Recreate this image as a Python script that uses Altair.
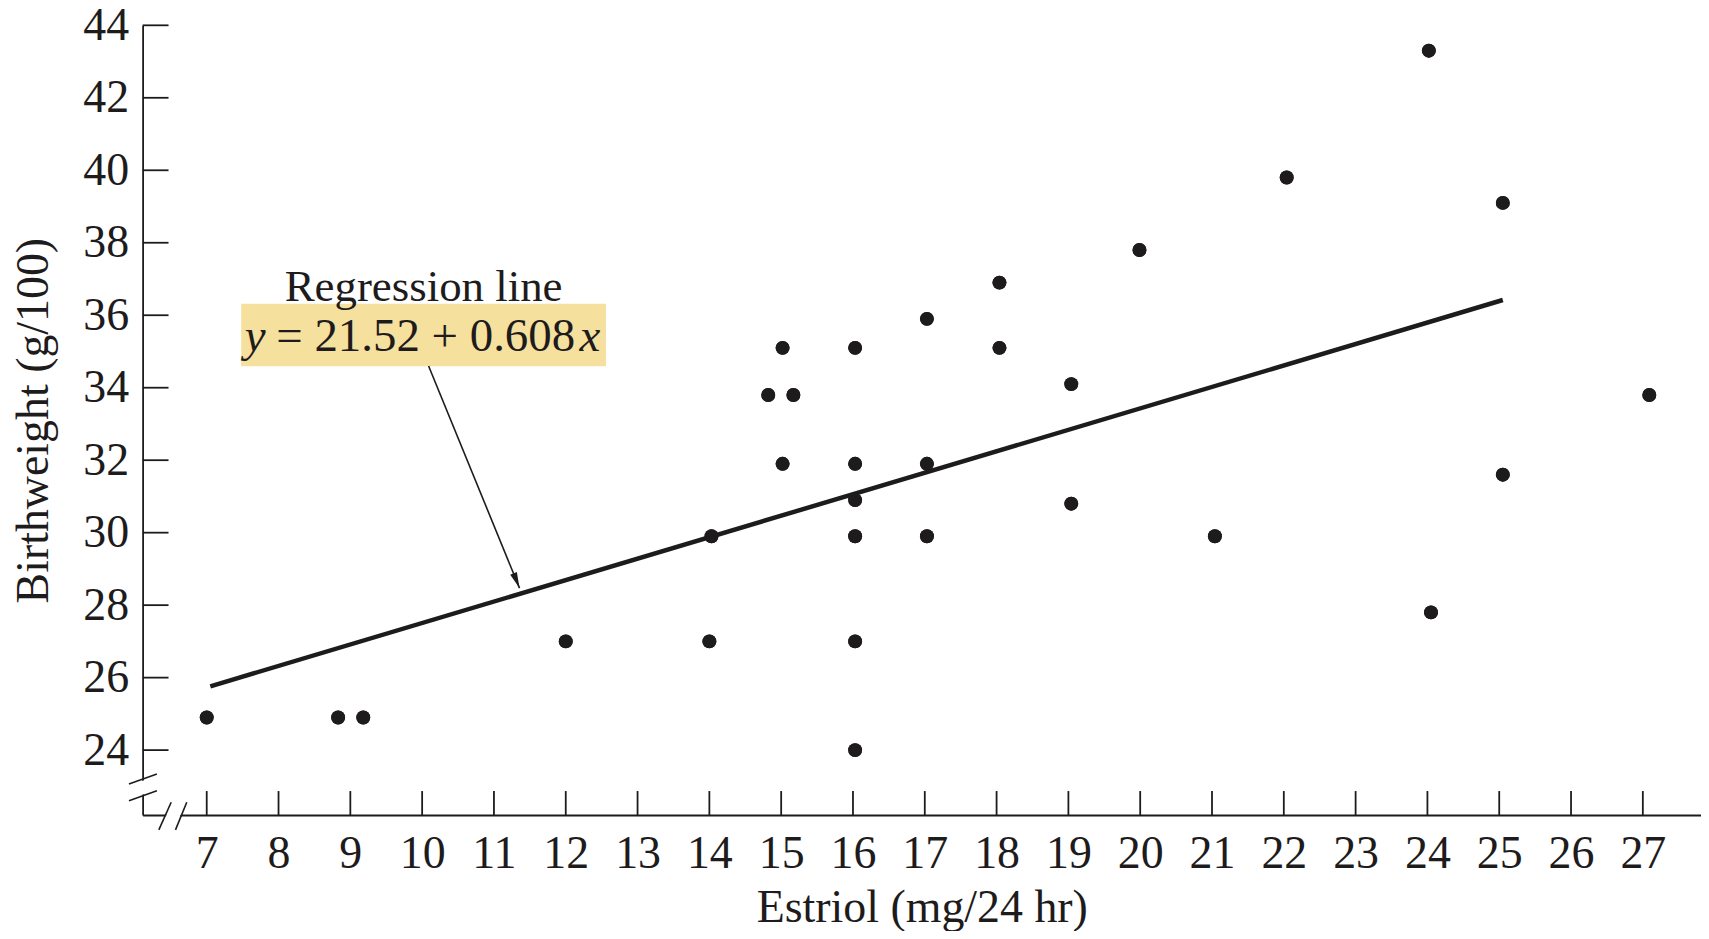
import altair as alt
import pandas as pd

# ---- data ----
estriol = [7.0, 8.83, 9.18, 12.0, 14.0, 16.03, 16.03, 14.03, 16.03, 16.03, 17.03,
           19.04, 21.04, 24.05, 15.02, 16.03, 17.03, 25.05, 27.09, 14.82, 15.17,
           15.02, 16.03, 19.04, 18.04, 17.03, 18.04, 19.99, 22.04, 25.05, 24.02]
birthweight = [24.9, 24.9, 24.9, 27.0, 27.0, 27.0, 24.0, 29.9, 29.9, 30.9, 29.9,
               30.8, 29.9, 27.8, 31.9, 31.9, 31.9, 31.6, 33.8, 33.8, 33.8,
               35.1, 35.1, 34.1, 35.1, 35.9, 36.9, 37.8, 39.8, 39.1, 43.3]

reg_x = [7.05, 25.05]
reg_y = [25.76, 36.42]

x_ticks = list(range(7, 28))
y_ticks = list(range(24, 45, 2))

x_domain = [6.107, 27.81]
y_domain = [22.21, 44.0]

# annotation (data units)
box_x = [7.48, 12.56]
box_y = [34.59, 36.32]
arrow_x = [10.09, 11.356]
arrow_y = [34.60, 28.47]

# axis-break slashes (data units)
ybreak_x = [5.917, 6.306]
ybreak_y1 = [23.063, 23.338]
ybreak_y2 = [22.603, 22.878]
ybreak_gap = [22.829, 23.104]
xbreak_y = [21.80, 22.56]
xbreak_x1 = [6.333, 6.505]
xbreak_x2 = [6.565, 6.722]
xbreak_gap = [6.448, 6.614]

FONT = "Liberation Serif"
INK = "#1e1b1c"
W, H = 1563, 792

xs = alt.Scale(domain=x_domain, nice=False, zero=False)
ys = alt.Scale(domain=y_domain, nice=False, zero=False)

pts = pd.DataFrame({"estriol": estriol, "bw": birthweight})
reg = pd.DataFrame({"x": reg_x, "y": reg_y})

base_x_axis = alt.Axis(values=x_ticks, format="d", ticks=False, tickSize=0, grid=False,
                       domainColor=INK, domainWidth=1.8, labelFont=FONT, labelFontSize=46,
                       labelColor=INK, labelPadding=17, labelFlush=False, labelOverlap=False,
                       title="Estriol (mg/24 hr)", titleFont=FONT, titleFontSize=46,
                       titleFontWeight="normal", titleColor=INK, titlePadding=9)
base_y_axis = alt.Axis(values=y_ticks, format="d", ticks=False, tickSize=0, grid=False,
                       domainColor=INK, domainWidth=1.8, labelFont=FONT, labelFontSize=46,
                       labelColor=INK, labelPadding=14, labelFlush=False, labelOverlap=False,
                       title="Birthweight (g/100)", titleFont=FONT, titleFontSize=46,
                       titleFontWeight="normal", titleColor=INK, titlePadding=25)

points = alt.Chart(pts).mark_circle(size=195, color=INK, opacity=1).encode(
    x=alt.X("estriol:Q", scale=xs, axis=base_x_axis),
    y=alt.Y("bw:Q", scale=ys, axis=base_y_axis),
)

reg_line = alt.Chart(reg).mark_line(color=INK, strokeWidth=4.5).encode(
    x=alt.X("x:Q", scale=xs), y=alt.Y("y:Q", scale=ys)
)

box = alt.Chart(pd.DataFrame({"x": [box_x[0]], "x2": [box_x[1]], "y": [box_y[0]], "y2": [box_y[1]]})).mark_rect(
    color="#F6E09E").encode(x=alt.X("x:Q", scale=xs), x2="x2", y=alt.Y("y:Q", scale=ys), y2="y2")

label1 = alt.Chart(pd.DataFrame({"x": [10.02], "y": [36.38], "t": ["Regression line"]})).mark_text(
    font=FONT, fontSize=45, color=INK, align="center", baseline="alphabetic").encode(
    x=alt.X("x:Q", scale=xs), y=alt.Y("y:Q", scale=ys), text="t:N")

eq_mid = alt.Chart(pd.DataFrame({"x": [10.05], "y": [35.02], "t": ["= 21.52 + 0.608"]})).mark_text(
    font=FONT, fontSize=47, color=INK, align="center", baseline="alphabetic").encode(
    x=alt.X("x:Q", scale=xs), y=alt.Y("y:Q", scale=ys), text="t:N")
eq_y = alt.Chart(pd.DataFrame({"x": [7.53], "y": [35.02], "t": ["y"]})).mark_text(
    font=FONT, fontSize=47, fontStyle="italic", color=INK, align="left", baseline="alphabetic").encode(
    x=alt.X("x:Q", scale=xs), y=alt.Y("y:Q", scale=ys), text="t:N")
eq_x = alt.Chart(pd.DataFrame({"x": [12.48], "y": [35.02], "t": ["x"]})).mark_text(
    font=FONT, fontSize=47, fontStyle="italic", color=INK, align="right", baseline="alphabetic").encode(
    x=alt.X("x:Q", scale=xs), y=alt.Y("y:Q", scale=ys), text="t:N")

arrow_line = alt.Chart(pd.DataFrame({"x": [arrow_x[0]], "x2": [arrow_x[1]], "y": [arrow_y[0]], "y2": [arrow_y[1]]})).mark_rule(
    color=INK, strokeWidth=1.6).encode(x=alt.X("x:Q", scale=xs), x2="x2", y=alt.Y("y:Q", scale=ys), y2="y2")
arrow_head = alt.Chart(pd.DataFrame({"x": [arrow_x[1]], "y": [arrow_y[1]]})).mark_point(
    shape="M0,0L-0.45,-2L0.45,-2Z", size=256, filled=True, color=INK, opacity=1, angle=338).encode(
    x=alt.X("x:Q", scale=xs), y=alt.Y("y:Q", scale=ys))

xt = alt.Chart(pd.DataFrame({"v": x_ticks})).mark_rule(color=INK, strokeWidth=1.8).encode(
    x=alt.X("v:Q", scale=xs), y=alt.value(H), y2=alt.value(H - 24))
yt = alt.Chart(pd.DataFrame({"v": y_ticks})).mark_rule(color=INK, strokeWidth=1.8).encode(
    y=alt.Y("v:Q", scale=ys), x=alt.value(0), x2=alt.value(26))

brk = pd.DataFrame({
    "x":  [ybreak_x[0], ybreak_x[0], ybreak_x[0], xbreak_gap[0], xbreak_x1[0], xbreak_x2[0]],
    "x2": [ybreak_x[1], ybreak_x[1], ybreak_x[1], xbreak_gap[1], xbreak_x1[1], xbreak_x2[1]],
    "y":  [ybreak_gap[0], ybreak_y1[0], ybreak_y2[0], xbreak_y[0], xbreak_y[0], xbreak_y[0]],
    "y2": [ybreak_gap[1], ybreak_y1[1], ybreak_y2[1], xbreak_y[1], xbreak_y[1], xbreak_y[1]],
    "kind": ["gap", "slash", "slash", "gap", "slash", "slash"],
})
gaps = alt.Chart(brk).transform_filter("datum.kind == 'gap'").mark_rule(
    color="white", strokeWidth=13, strokeCap="butt").encode(
    x=alt.X("x:Q", scale=xs), x2="x2", y=alt.Y("y:Q", scale=ys), y2="y2")
slashes = alt.Chart(brk).transform_filter("datum.kind == 'slash'").mark_rule(
    color=INK, strokeWidth=1.6).encode(
    x=alt.X("x:Q", scale=xs), x2="x2", y=alt.Y("y:Q", scale=ys), y2="y2")

chart = alt.layer(
    points, box, label1, eq_mid, eq_y, eq_x, reg_line, arrow_line, arrow_head,
    xt, yt, gaps, slashes, points
).properties(
    width=W, height=H,
    autosize=alt.AutoSizeParams(type="none"),
    padding={"left": 135, "top": 16, "right": 0, "bottom": 115},
    background="white",
).configure_view(stroke=None)

chart.save("out.html", embed_options={"renderer": "svg", "actions": False})
